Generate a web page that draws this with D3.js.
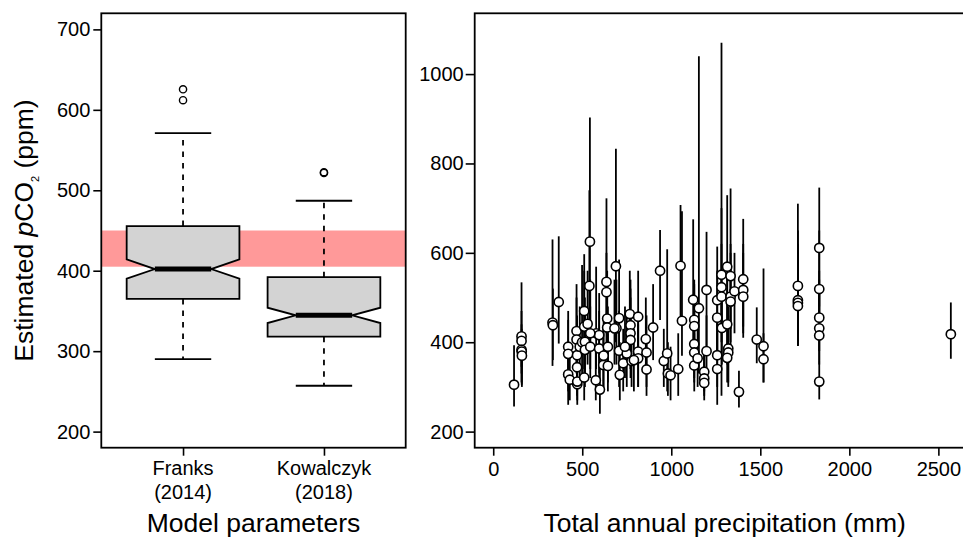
<!DOCTYPE html>
<html>
<head>
<meta charset="utf-8">
<script src="https://cdn.jsdelivr.net/npm/d3@7"></script>
<style>
  body { margin: 0; background: #fff; }
  svg { display: block; font-family: "Liberation Sans", Arial, Helvetica, sans-serif; }
</style>
</head>
<body>
<svg id="chart" width="963" height="538"></svg>
<script>
// ---- left panel: notched boxplots ----
var groupNames = ["Franks", "Kowalczyk"];
var groupYears = ["(2014)", "(2018)"];
var whiskerLo = [290, 257];
var boxQ1 = [365, 318];
var notchLo = [390, 335];
var boxMedian = [402, 344.5];
var notchHi = [414, 354];
var boxQ3 = [455.5, 392];
var whiskerHi = [571, 487];
var outliers = [[625.5, 612], [522.5, 521.5]];
var modernBand = [405, 450];
var boxYTicks = [200, 300, 400, 500, 600, 700];

// ---- right panel: estimate vs precipitation ----
var precip = [117, 159, 159, 159, 160, 161, 333, 335, 368, 421, 421, 421, 430, 468, 468, 471, 471, 472, 472, 486,
  499, 511, 511, 515, 515, 511, 543, 540, 530, 545, 576, 578, 595, 595, 599, 618, 636, 636, 640, 640,
  644, 644, 689, 692, 707, 707, 711, 730, 767, 771, 771, 771, 777, 814, 814, 814, 857, 861, 861, 898,
  937, 958, 977, 981, 996, 1039, 1052, 1060, 1123, 1155, 1129, 1129, 1129, 1129, 1129, 1148, 1198, 1198, 1185, 1185,
  1185, 1258, 1258, 1258, 1258, 1282, 1282, 1282, 1284, 1314, 1333, 1333, 1333, 1314, 1320, 1320, 1314, 1355, 1404, 1404,
  1404, 1480, 1518, 1518, 1380, 1711, 1711, 1711, 1711, 1831, 1831, 1831, 1831, 1831, 1831, 2570,
  545, 620, 750, 790, 740, 681];
var pco2 = [305, 413, 403, 383, 379, 370, 444, 438, 490, 390, 374, 328, 316, 425, 406, 371, 344, 306, 312, 390,
  400, 470, 435, 401, 383, 321, 625, 526, 441, 390, 315, 420, 416, 386, 294, 349, 535, 512, 453, 433,
  390, 347, 570, 431, 454, 381, 327, 353, 463, 438, 420, 405, 358, 457, 379, 364, 407, 377, 339, 433,
  560, 358, 375, 330, 326, 340, 571, 448, 495, 476, 450, 436, 396, 377, 348, 364, 517, 380, 334, 319,
  309, 494, 455, 371, 340, 551, 523, 502, 432, 569, 548, 502, 491, 440, 386, 377, 365, 514, 541, 517,
  502, 406, 391, 362, 289, 526, 494, 488, 481, 611, 519, 455, 431, 415, 312, 418,
  420, 370, 375, 360, 390, 431];
var errLo = [256, 345, 330, 310, 305, 300, 347, 360, 397, 320, 290, 260, 270, 340, 330, 300, 280, 270, 260, 300,
  320, 380, 340, 320, 300, 270, 450, 420, 350, 320, 270, 340, 330, 310, 240, 290, 420, 400, 370, 350,
  310, 290, 400, 350, 370, 300, 270, 290, 370, 350, 340, 320, 300, 360, 300, 300, 330, 300, 280, 360,
  450, 300, 290, 280, 270, 280, 450, 370, 400, 330, 370, 350, 320, 310, 290, 300, 390, 310, 290, 280,
  270, 380, 360, 300, 260, 420, 280, 400, 350, 440, 430, 400, 390, 350, 310, 300, 310, 420, 435, 420,
  410, 353, 310, 310, 254, 400, 392, 392, 392, 480, 420, 380, 360, 350, 272, 363,
  340, 300, 300, 290, 320, 350];
var errHi = [393, 534, 470, 440, 430, 420, 630, 520, 637, 470, 450, 400, 370, 530, 500, 460, 420, 390, 360, 480,
  573, 597, 560, 500, 480, 390, 903, 740, 560, 480, 380, 569, 510, 470, 360, 430, 722, 600, 560, 540,
  480, 420, 833, 540, 585, 470, 400, 430, 560, 540, 520, 500, 440, 560, 460, 440, 500, 460, 410, 530,
  651, 430, 608, 400, 390, 420, 707, 693, 675, 1040, 540, 530, 480, 460, 420, 440, 647, 460, 390, 380,
  370, 614, 560, 460, 420, 700, 1070, 620, 530, 729, 744, 620, 600, 550, 480, 460, 430, 600, 676, 620,
  600, 478, 565, 420, 336, 710, 650, 620, 600, 746, 650, 560, 540, 520, 360, 489,
  540, 450, 470, 430, 480, 540];
var precipTicks = [0, 500, 1000, 1500, 2000, 2500];
var pco2Ticks = [200, 400, 600, 800, 1000];

var svg = d3.select('#chart');
var tickFont = 20;
var titleFont = 26.5;

// scales (R style: limits padded by 4%)
var xBox = d3.scaleLinear().domain([0.42, 2.58]).range([101.3, 405.7]);
var yBox = d3.scaleLinear().domain([180, 720]).range([447.7, 13.3]);
var xP = d3.scaleLinear().domain([-104, 2704]).range([474.7, 974.7]);
var yP = d3.scaleLinear().domain([164, 1136]).range([447.7, 13.3]);

function styleAxis(g) {
  g.select('.domain').remove();
  g.selectAll('.tick line').attr('stroke', '#000').attr('stroke-width', 1.6);
  g.selectAll('.tick text').attr('fill', '#000').style('font-size', tickFont + 'px')
    .style('font-family', '"Liberation Sans", Arial, sans-serif');
}

// ===== left panel =====
var left = svg.append('g');

// modern range band
left.append('rect')
  .attr('x', xBox.range()[0])
  .attr('y', yBox(modernBand[1]))
  .attr('width', xBox.range()[1] - xBox.range()[0])
  .attr('height', yBox(modernBand[0]) - yBox(modernBand[1]))
  .attr('fill', '#ff9999');

var halfBox = 0.4, halfNotch = 0.2, halfCap = 0.2;

groupNames.forEach(function(name, i) {
  var c = i + 1;
  // whiskers
  left.append('line')
    .attr('x1', xBox(c)).attr('x2', xBox(c))
    .attr('y1', yBox(boxQ3[i])).attr('y2', yBox(whiskerHi[i]))
    .attr('stroke', '#000').attr('stroke-width', 1.8).attr('stroke-dasharray', '5.5,6');
  left.append('line')
    .attr('x1', xBox(c)).attr('x2', xBox(c))
    .attr('y1', yBox(boxQ1[i])).attr('y2', yBox(whiskerLo[i]))
    .attr('stroke', '#000').attr('stroke-width', 1.8).attr('stroke-dasharray', '5.5,6');
  [whiskerHi[i], whiskerLo[i]].forEach(function(v) {
    left.append('line')
      .attr('x1', xBox(c - halfCap)).attr('x2', xBox(c + halfCap))
      .attr('y1', yBox(v)).attr('y2', yBox(v))
      .attr('stroke', '#000').attr('stroke-width', 1.8);
  });

  // notched box
  var pts = [
    [c - halfBox, boxQ3[i]], [c + halfBox, boxQ3[i]], [c + halfBox, notchHi[i]],
    [c + halfNotch, boxMedian[i]], [c + halfBox, notchLo[i]], [c + halfBox, boxQ1[i]],
    [c - halfBox, boxQ1[i]], [c - halfBox, notchLo[i]], [c - halfNotch, boxMedian[i]],
    [c - halfBox, notchHi[i]]
  ];
  left.append('path')
    .attr('d', d3.line().x(function(d) { return xBox(d[0]); }).y(function(d) { return yBox(d[1]); })(pts) + 'Z')
    .attr('fill', '#d3d3d3').attr('stroke', '#000').attr('stroke-width', 1.8)
    .attr('stroke-linejoin', 'miter');

  // median
  left.append('line')
    .attr('x1', xBox(c - halfNotch)).attr('x2', xBox(c + halfNotch))
    .attr('y1', yBox(boxMedian[i])).attr('y2', yBox(boxMedian[i]))
    .attr('stroke', '#000').attr('stroke-width', 5);

  // outliers
  left.selectAll(null)
    .data(outliers[i])
    .enter()
    .append('circle')
    .attr('cx', xBox(c))
    .attr('cy', function(d) { return yBox(d); })
    .attr('r', 3.6)
    .attr('fill', 'none').attr('stroke', '#000').attr('stroke-width', 1.4);
});

// frame
left.append('rect')
  .attr('x', xBox.range()[0]).attr('y', yBox.range()[1])
  .attr('width', xBox.range()[1] - xBox.range()[0])
  .attr('height', yBox.range()[0] - yBox.range()[1])
  .attr('fill', 'none').attr('stroke', '#000').attr('stroke-width', 1.8);

left.append('g')
  .attr('transform', 'translate(' + xBox.range()[0] + ',0)')
  .call(d3.axisLeft(yBox).tickValues(boxYTicks).tickSize(8).tickPadding(3))
  .call(styleAxis);

left.append('g')
  .attr('transform', 'translate(0,' + yBox.range()[0] + ')')
  .call(d3.axisBottom(xBox).tickValues([1, 2]).tickSize(8).tickFormat(''))
  .call(styleAxis);

groupNames.forEach(function(name, i) {
  var t = left.append('text')
    .attr('x', xBox(i + 1)).attr('y', 474.5)
    .attr('text-anchor', 'middle').style('font-size', tickFont + 'px');
  t.append('tspan').attr('x', xBox(i + 1)).text(name);
  t.append('tspan').attr('x', xBox(i + 1)).attr('dy', 24).text(groupYears[i]);
});

left.append('text')
  .attr('x', (xBox.range()[0] + xBox.range()[1]) / 2).attr('y', 531.5)
  .attr('text-anchor', 'middle').style('font-size', titleFont + 'px')
  .text('Model parameters');

var yTitle = left.append('text')
  .attr('transform', 'translate(33,' + ((yBox.range()[0] + yBox.range()[1]) / 2) + ') rotate(-90)')
  .attr('text-anchor', 'middle').style('font-size', titleFont + 'px');
yTitle.append('tspan').text('Estimated ');
yTitle.append('tspan').style('font-style', 'italic').text('p');
yTitle.append('tspan').text('CO');
yTitle.append('tspan').attr('dy', 6).style('font-size', '11px').text('2');
yTitle.append('tspan').attr('dy', -6).text(' (ppm)');

// ===== right panel =====
var right = svg.append('g');
var points = precip.map(function(p, i) {
  return { x: p, y: pco2[i], lo: errLo[i], hi: errHi[i] };
});

right.selectAll('line.err')
  .data(points)
  .enter()
  .append('line')
  .attr('class', 'err')
  .attr('x1', function(d) { return xP(d.x); })
  .attr('x2', function(d) { return xP(d.x); })
  .attr('y1', function(d) { return yP(d.lo); })
  .attr('y2', function(d) { return yP(d.hi); })
  .attr('stroke', '#000').attr('stroke-width', 1.8);

right.selectAll('circle')
  .data(points)
  .enter()
  .append('circle')
  .attr('cx', function(d) { return xP(d.x); })
  .attr('cy', function(d) { return yP(d.y); })
  .attr('r', 4.6)
  .attr('fill', '#fff').attr('stroke', '#000').attr('stroke-width', 1.6);

right.append('rect')
  .attr('x', xP.range()[0]).attr('y', yP.range()[1])
  .attr('width', xP.range()[1] - xP.range()[0])
  .attr('height', yP.range()[0] - yP.range()[1])
  .attr('fill', 'none').attr('stroke', '#000').attr('stroke-width', 1.8);

right.append('g')
  .attr('transform', 'translate(' + xP.range()[0] + ',0)')
  .call(d3.axisLeft(yP).tickValues(pco2Ticks).tickSize(9).tickPadding(2).tickFormat(d3.format('d')))
  .call(styleAxis);

right.append('g')
  .attr('transform', 'translate(0,' + yP.range()[0] + ')')
  .call(d3.axisBottom(xP).tickValues(precipTicks).tickSize(8).tickPadding(6).tickFormat(d3.format('d')))
  .call(styleAxis);

right.append('text')
  .attr('x', (xP.range()[0] + xP.range()[1]) / 2).attr('y', 531.5)
  .attr('text-anchor', 'middle').style('font-size', titleFont + 'px')
  .text('Total annual precipitation (mm)');
</script>
</body>
</html>
